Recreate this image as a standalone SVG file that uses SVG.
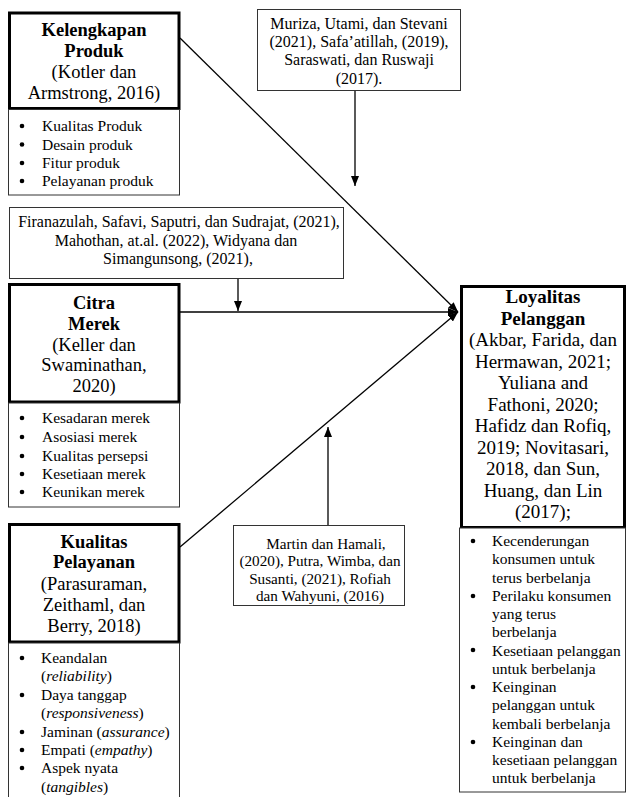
<svg xmlns="http://www.w3.org/2000/svg" width="627" height="797" viewBox="0 0 627 797">
<style>
.bg{fill:#fff}
.thick{fill:#fff;stroke:#000;stroke-width:3}
.thin{fill:#fff;stroke:#333;stroke-width:1}
.t{font-family:"Liberation Serif","Times New Roman",serif;fill:#000}
.h{font-size:18.5px;text-anchor:middle}
.hl{font-size:19px;text-anchor:middle}
.b{font-weight:bold}
.c{font-size:16px;text-anchor:middle}
.cm{font-size:15.2px;text-anchor:middle}
.l{font-size:15.5px}
.i{font-style:italic}
.ln{stroke:#000;stroke-width:1.3;fill:none}
.dot{fill:#000}
</style>
<defs>
<marker id="ah" markerWidth="10" markerHeight="8" refX="10" refY="4" orient="auto" markerUnits="userSpaceOnUse">
<path d="M0,0 L10,4 L0,8 z" fill="#000"/>
</marker>
</defs>
<rect class="bg" x="0" y="0" width="627" height="797"/>

<g id="connectors">
<path class="ln" d="M180,38 L458,312" marker-end="url(#ah)"/>
<path class="ln" d="M180,312 L458,312" marker-end="url(#ah)"/>
<path class="ln" d="M180,547 L458,312" marker-end="url(#ah)"/>
<path class="ln" d="M355,91 L355,186" marker-end="url(#ah)"/>
<path class="ln" d="M238,279 L238,311" marker-end="url(#ah)"/>
<path class="ln" d="M328,525 L328,427" marker-end="url(#ah)"/>
</g>

<g id="kelengkapan">
<rect class="thick" x="9.5" y="13" width="169.5" height="95.5"/>
<text class="t h b" x="94" y="36">Kelengkapan</text>
<text class="t h b" x="94" y="57">Produk</text>
<text class="t h" x="94" y="78">(Kotler dan</text>
<text class="t h" x="94" y="99">Armstrong, 2016)</text>
<rect class="thin" x="8.5" y="109.5" width="171" height="85.5"/>
<circle class="dot" cx="22" cy="126" r="2.3"/>
<circle class="dot" cx="22" cy="144.5" r="2.3"/>
<circle class="dot" cx="22" cy="163" r="2.3"/>
<circle class="dot" cx="22" cy="181" r="2.3"/>
<text class="t l" x="42" y="131">Kualitas Produk</text>
<text class="t l" x="42" y="149.5">Desain produk</text>
<text class="t l" x="42" y="168">Fitur produk</text>
<text class="t l" x="42" y="186">Pelayanan produk</text>
</g>

<g id="ref-muriza">
<rect class="thin" x="257.5" y="9.5" width="203" height="81"/>
<text class="t c" x="359" y="28.5">Muriza, Utami, dan Stevani</text>
<text class="t c" x="359" y="47">(2021), Safa’atillah, (2019),</text>
<text class="t c" x="359" y="65">Saraswati, dan Ruswaji</text>
<text class="t c" x="359" y="83.5">(2017).</text>
</g>

<g id="ref-firanazulah">
<rect class="thin" x="9.5" y="207.5" width="334" height="71"/>
<text class="t c" x="179" y="227">Firanazulah, Safavi, Saputri, dan Sudrajat, (2021),</text>
<text class="t c" x="176" y="245.5">Mahothan, at.al. (2022), Widyana dan</text>
<text class="t c" x="178" y="264">Simangunsong, (2021),</text>
</g>

<g id="citra">
<rect class="thick" x="9.5" y="284.5" width="169.5" height="117.5"/>
<text class="t h b" x="94" y="309">Citra</text>
<text class="t h b" x="94" y="330">Merek</text>
<text class="t h" x="94" y="351">(Keller dan</text>
<text class="t h" x="94" y="371">Swaminathan,</text>
<text class="t h" x="94" y="392">2020)</text>
<rect class="thin" x="8.5" y="403" width="171" height="104"/>
<circle class="dot" cx="22" cy="418" r="2.3"/>
<circle class="dot" cx="22" cy="437" r="2.3"/>
<circle class="dot" cx="22" cy="456" r="2.3"/>
<circle class="dot" cx="22" cy="474" r="2.3"/>
<circle class="dot" cx="22" cy="492" r="2.3"/>
<text class="t l" x="42" y="423">Kesadaran merek</text>
<text class="t l" x="42" y="442">Asosiasi merek</text>
<text class="t l" x="42" y="461">Kualitas persepsi</text>
<text class="t l" x="42" y="479">Kesetiaan merek</text>
<text class="t l" x="42" y="497">Keunikan merek</text>
</g>

<g id="kualitas">
<rect class="thick" x="9.5" y="524.5" width="169.5" height="117.5"/>
<text class="t h b" x="94" y="548">Kualitas</text>
<text class="t h b" x="94" y="568">Pelayanan</text>
<text class="t h" x="94" y="590">(Parasuraman,</text>
<text class="t h" x="94" y="611">Zeithaml, dan</text>
<text class="t h" x="94" y="632">Berry, 2018)</text>
<rect class="thin" x="8.5" y="643" width="171" height="170"/>
<circle class="dot" cx="22" cy="658" r="2.3"/>
<circle class="dot" cx="22" cy="695" r="2.3"/>
<circle class="dot" cx="22" cy="732" r="2.3"/>
<circle class="dot" cx="22" cy="750" r="2.3"/>
<circle class="dot" cx="22" cy="768" r="2.3"/>
<text class="t l" x="41" y="663">Keandalan</text>
<text class="t l" x="41" y="681">(<tspan class="i">reliability</tspan>)</text>
<text class="t l" x="41" y="700">Daya tanggap</text>
<text class="t l" x="41" y="718">(<tspan class="i">responsiveness</tspan>)</text>
<text class="t l" x="41" y="737">Jaminan (<tspan class="i">assurance</tspan>)</text>
<text class="t l" x="41" y="755">Empati (<tspan class="i">empathy</tspan>)</text>
<text class="t l" x="41" y="773">Aspek nyata</text>
<text class="t l" x="41" y="792">(<tspan class="i">tangibles</tspan>)</text>
</g>

<g id="ref-martin">
<rect class="thin" x="233.5" y="525.5" width="171" height="80"/>
<text class="t cm" x="326" y="548.5">Martin dan Hamali,</text>
<text class="t cm" x="320" y="566">(2020), Putra, Wimba, dan</text>
<text class="t cm" x="320" y="583.5">Susanti, (2021), Rofiah</text>
<text class="t cm" x="320" y="601">dan Wahyuni, (2016)</text>
</g>

<g id="loyalitas">
<rect class="thick" x="461.5" y="286.5" width="163" height="241"/>
<text class="t hl b" x="543" y="303">Loyalitas</text>
<text class="t hl b" x="543" y="324.5">Pelanggan</text>
<text class="t hl" x="543" y="346">(Akbar, Farida, dan</text>
<text class="t hl" x="543" y="367.5">Hermawan, 2021;</text>
<text class="t hl" x="543" y="389">Yuliana and</text>
<text class="t hl" x="543" y="410.5">Fathoni, 2020;</text>
<text class="t hl" x="543" y="432">Hafidz dan Rofiq,</text>
<text class="t hl" x="543" y="453.5">2019; Novitasari,</text>
<text class="t hl" x="543" y="475">2018, dan Sun,</text>
<text class="t hl" x="543" y="496.5">Huang, dan Lin</text>
<text class="t hl" x="543" y="518">(2017);</text>
<rect class="thin" x="459.5" y="528" width="166" height="264"/>
<circle class="dot" cx="473" cy="541" r="2.3"/>
<circle class="dot" cx="473" cy="596" r="2.3"/>
<circle class="dot" cx="473" cy="650" r="2.3"/>
<circle class="dot" cx="473" cy="687" r="2.3"/>
<circle class="dot" cx="473" cy="742" r="2.3"/>
<text class="t l" x="492" y="546">Kecenderungan</text>
<text class="t l" x="492" y="564">konsumen untuk</text>
<text class="t l" x="492" y="582.5">terus berbelanja</text>
<text class="t l" x="492" y="601">Perilaku konsumen</text>
<text class="t l" x="492" y="619">yang terus</text>
<text class="t l" x="492" y="637">berbelanja</text>
<text class="t l" x="492" y="655.5">Kesetiaan pelanggan</text>
<text class="t l" x="492" y="674">untuk berbelanja</text>
<text class="t l" x="492" y="692">Keinginan</text>
<text class="t l" x="492" y="710">pelanggan untuk</text>
<text class="t l" x="492" y="728.5">kembali berbelanja</text>
<text class="t l" x="492" y="747">Keinginan dan</text>
<text class="t l" x="492" y="765">kesetiaan pelanggan</text>
<text class="t l" x="492" y="783">untuk berbelanja</text>
</g>
</svg>
